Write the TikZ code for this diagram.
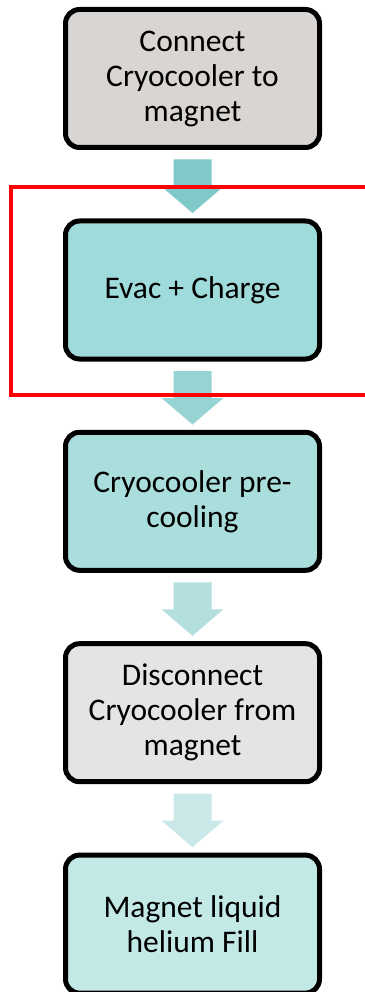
\documentclass[tikz,border=0pt]{standalone}
\usepackage{fontspec}
\setmainfont{Carlito}
\usetikzlibrary{calc}
\definecolor{fillA}{HTML}{D9D5D2}
\definecolor{fillB}{HTML}{A0DBDB}
\definecolor{fillC}{HTML}{AADEDD}
\definecolor{fillD}{HTML}{E5E4E3}
\definecolor{fillE}{HTML}{C3E9E7}
\definecolor{arrA}{HTML}{80C9C9}
\definecolor{arrB}{HTML}{98D3D3}
\definecolor{arrC}{HTML}{B3DFDF}
\definecolor{arrD}{HTML}{CBE8E9}
\begin{document}
\begin{tikzpicture}[x=1pt,y=-1pt,
  stepbox/.style={draw=black, line width=5pt, rounded corners=14pt,
    minimum width=254pt, minimum height=138pt, align=center,
    inner sep=0pt, font=\fontsize{31.5}{35}\selectfont, text=black},
  highlight/.style={draw=red, line width=4pt}]
\useasboundingbox (0,0) rectangle (364,992);
\node[stepbox, fill=fillA] (b1) at (192.5,78.5) {Connect\\Cryocooler to\\magnet};
\node[stepbox, fill=fillB] (b2) at (192.5,290) {Evac + Charge};
\node[stepbox, fill=fillC] (b3) at (192.5,501.3) {Cryocooler pre-\\cooling};
\node[stepbox, fill=fillD] (b4) at (192.5,712.7) {Disconnect\\Cryocooler from\\magnet};
\node[stepbox, fill=fillE] (b5) at (192.5,924.1) {Magnet liquid\\helium Fill};
\foreach \a/\c in {b1/arrA, b2/arrB, b3/arrC, b4/arrD}{
  \fill[\c] ($(\a.south)+(-19,9.5)$) -- ($(\a.south)+(-19,36.5)$)
    -- ($(\a.south)+(-31,36.5)$) -- ($(\a.south)+(0,63)$)
    -- ($(\a.south)+(31,36.5)$) -- ($(\a.south)+(19,36.5)$)
    -- ($(\a.south)+(19,9.5)$) -- cycle;
}
\coordinate (rtl) at (11,187);
\coordinate (rbr) at (370,395);
\draw[highlight] (rtl) rectangle (rbr);
\end{tikzpicture}
\end{document}
